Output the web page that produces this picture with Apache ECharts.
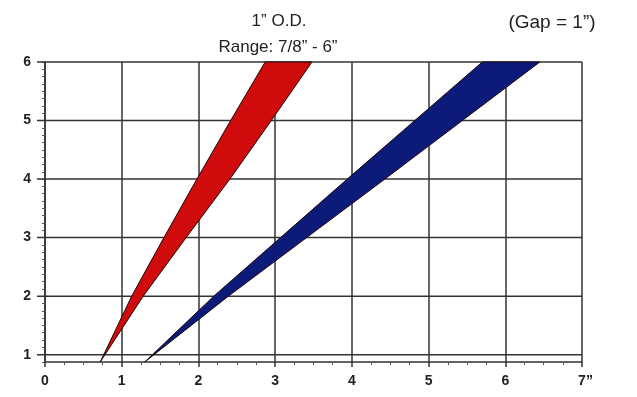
<!DOCTYPE html>
<html>
<head>
<meta charset="utf-8">
<script src="https://cdn.jsdelivr.net/npm/echarts@6/dist/echarts.min.js"></script>
<style>
  html, body { margin: 0; padding: 0; background: #fff; }
  #chart { width: 637px; height: 397px; }
</style>
</head>
<body>
<div id="chart"></div>
<script>
// Depth levels (y, inches) where the band edges are sampled
const depthLevels = [0.875, 2, 3, 4, 5, 6];
// Red band: left and right edge positions (x, inches) at each depth level
const redLeft  = [0.72, 1.13, 1.55, 1.98, 2.42, 2.87];
const redRight = [0.72, 1.28, 1.84, 2.41, 2.95, 3.48];
// Blue band: left and right edge positions at each depth level
const blueLeft  = [1.30, 2.20, 3.07, 3.94, 4.82, 5.70];
const blueRight = [1.30, 2.39, 3.41, 4.43, 5.44, 6.45];
// Horizontal major gridlines
const yGridValues = [1, 2, 3, 4, 5, 6];
// Axis ranges
const xRange = [0, 7];
const yRange = [0.875, 6];

const FONT = '"Liberation Sans", Arial, sans-serif';
const GRID_COLOR = '#333333';

function bandPolygon(left, right) {
  const pts = [];
  for (let i = 0; i < depthLevels.length; i++) pts.push([left[i], depthLevels[i]]);
  for (let i = depthLevels.length - 1; i >= 0; i--) pts.push([right[i], depthLevels[i]]);
  return pts;
}

function bandSeries(name, left, right, color) {
  const poly = bandPolygon(left, right);
  return {
    name: name,
    type: 'custom',
    z: 5,
    data: [poly[0]],
    renderItem: function (params, api) {
      return {
        type: 'polygon',
        shape: { points: poly.map(p => api.coord(p)) },
        style: { fill: color, stroke: '#1a0808', lineWidth: 1 }
      };
    }
  };
}

const chart = echarts.init(document.getElementById('chart'), null, { renderer: 'canvas' });

chart.setOption({
  backgroundColor: '#ffffff',
  animation: false,
  title: [
    { text: '1\u201D O.D.', left: 274, top: 8, textAlign: 'center',
      textStyle: { fontFamily: FONT, fontSize: 17, fontWeight: 'normal', color: '#222' } },
    { text: 'Range: 7/8\u201D - 6\u201D', left: 273, top: 34, textAlign: 'center',
      textStyle: { fontFamily: FONT, fontSize: 17, fontWeight: 'normal', color: '#222' } },
    { text: '(Gap = 1\u201D)', left: 547, top: 8, textAlign: 'center',
      textStyle: { fontFamily: FONT, fontSize: 19, fontWeight: 'normal', color: '#222' } }
  ],
  grid: { left: 45, right: 55, top: 62, bottom: 35, containLabel: false },
  xAxis: {
    type: 'value',
    min: xRange[0], max: xRange[1], interval: 1,
    axisLine: { show: true, lineStyle: { color: GRID_COLOR, width: 1.5 } },
    axisTick: { show: true, length: 5, lineStyle: { color: GRID_COLOR, width: 1.5 } },
    minorTick: { show: true, splitNumber: 4, length: 3, lineStyle: { color: '#555', width: 1 } },
    splitLine: { show: true, lineStyle: { color: GRID_COLOR, width: 1.5 } },
    axisLabel: {
      margin: 12,
      fontFamily: FONT, fontSize: 14, fontWeight: 'bold', color: '#222',
      formatter: v => (v === xRange[1] ? '{p|}' + v + '\u201D' : String(v)),
      rich: { p: { width: 7 } }
    }
  },
  yAxis: {
    type: 'value',
    min: yRange[0], max: yRange[1], interval: 0.125,
    axisLine: { show: true, lineStyle: { color: GRID_COLOR, width: 1.5 } },
    axisTick: { show: true, length: 3, lineStyle: { color: '#555', width: 1 } },
    splitLine: { show: false },
    axisLabel: {
      margin: 14,
      fontFamily: FONT, fontSize: 14, fontWeight: 'bold', color: '#222',
      formatter: v => (Math.abs(v - Math.round(v)) < 1e-9 ? String(Math.round(v)) : '')
    }
  },
  series: [
    {
      name: 'hgrid',
      type: 'custom',
      z: 1,
      silent: true,
      data: yGridValues.map(v => [xRange[0], v]),
      renderItem: function (params, api) {
        const y = api.value(1);
        const a = api.coord([xRange[0], y]);
        const b = api.coord([xRange[1], y]);
        return {
          type: 'line',
          shape: { x1: a[0] - 8, y1: a[1], x2: b[0], y2: b[1] },
          style: { stroke: GRID_COLOR, lineWidth: 1.5 }
        };
      }
    },
    bandSeries('red', redLeft, redRight, '#cf0b0b'),
    bandSeries('blue', blueLeft, blueRight, '#0c1a7a')
  ]
});
</script>
</body>
</html>
